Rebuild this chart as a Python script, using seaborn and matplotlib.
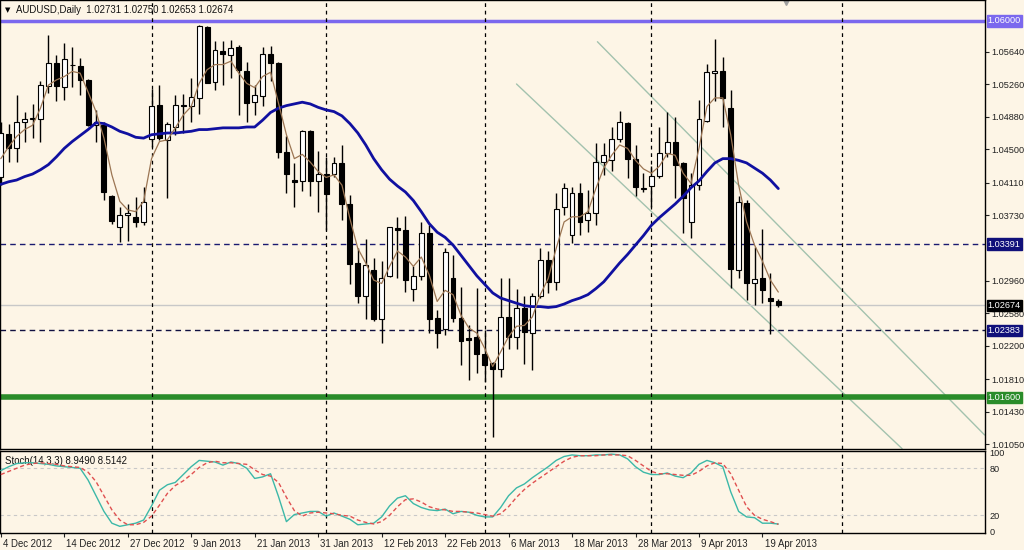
import numpy as np
import pandas as pd
import matplotlib
matplotlib.use('Agg')
import matplotlib.pyplot as plt
import matplotlib.transforms as mtransforms
from matplotlib.patches import Rectangle
import seaborn as sns

# ---- daily AUDUSD candles, 4 Dec 2012 .. 22 Apr 2013 ----
opens = [
    1.0418, 1.0468, 1.0452, 1.0482, 1.0485, 1.0485, 1.0524, 1.0551, 1.0523, 1.0549,
    1.0547, 1.0531, 1.0478, 1.0478, 1.0395, 1.0359, 1.0373, 1.0371, 1.0365, 1.0462,
    1.0502, 1.0461, 1.0476, 1.0502, 1.0500, 1.0510, 1.0593, 1.0529, 1.0565, 1.0560,
    1.0569, 1.0542, 1.0505, 1.0512, 1.0561, 1.0551, 1.0447, 1.0414, 1.0413, 1.0471,
    1.0413, 1.0421, 1.0421, 1.0434, 1.0386, 1.0317, 1.0278, 1.0309, 1.0252, 1.0302,
    1.0358, 1.0356, 1.0287, 1.0302, 1.0352, 1.0253, 1.0240, 1.0300, 1.0253, 1.0229,
    1.0230, 1.0210, 1.0200, 1.0193, 1.0254, 1.0230, 1.0264, 1.0235, 1.0278, 1.0321,
    1.0295, 1.0382, 1.0350, 1.0399, 1.0367, 1.0376, 1.0435, 1.0437, 1.0462, 1.0481,
    1.0439, 1.0404, 1.0407, 1.0419, 1.0446, 1.0458, 1.0434, 1.0365, 1.0408, 1.0483,
    1.0539, 1.0541, 1.0498, 1.0309, 1.0387, 1.0294, 1.0299, 1.0276, 1.02731]
highs = [
    1.0482, 1.0480, 1.0513, 1.0494, 1.0503, 1.0530, 1.0583, 1.0560, 1.0574, 1.0569,
    1.0557, 1.0532, 1.0496, 1.0482, 1.0396, 1.0383, 1.0386, 1.0394, 1.0406, 1.0520,
    1.0525, 1.0482, 1.0513, 1.0515, 1.0533, 1.0595, 1.0594, 1.0576, 1.0576, 1.0578,
    1.0572, 1.0552, 1.0525, 1.0570, 1.0571, 1.0552, 1.0465, 1.0434, 1.0473, 1.0473,
    1.0448, 1.0441, 1.0441, 1.0455, 1.0397, 1.0334, 1.0345, 1.0323, 1.0319, 1.0359,
    1.0371, 1.0372, 1.0313, 1.0365, 1.0361, 1.0262, 1.0334, 1.0326, 1.0289, 1.0244,
    1.0288, 1.0239, 1.0201, 1.0299, 1.0299, 1.0287, 1.0278, 1.0282, 1.0334, 1.0331,
    1.0399, 1.0410, 1.0406, 1.0410, 1.0402, 1.0457, 1.0457, 1.0476, 1.0495, 1.0482,
    1.0455, 1.0422, 1.0430, 1.0476, 1.0494, 1.0488, 1.0435, 1.0422, 1.0508, 1.0550,
    1.0579, 1.0558, 1.0519, 1.0395, 1.0391, 1.0336, 1.0357, 1.0305, 1.02750]
lows = [
    1.0408, 1.0435, 1.0435, 1.0459, 1.0463, 1.0458, 1.0516, 1.0506, 1.0508, 1.0523,
    1.0513, 1.0477, 1.0459, 1.0391, 1.0363, 1.0341, 1.0343, 1.0359, 1.0361, 1.0453,
    1.0461, 1.0393, 1.0467, 1.0469, 1.0482, 1.0491, 1.0527, 1.0519, 1.0525, 1.0533,
    1.0490, 1.0482, 1.0490, 1.0501, 1.0530, 1.0440, 1.0399, 1.0382, 1.0401, 1.0395,
    1.0377, 1.0356, 1.0417, 1.0367, 1.0293, 1.0270, 1.0252, 1.0249, 1.0223, 1.0301,
    1.0299, 1.0283, 1.0273, 1.0297, 1.0235, 1.0218, 1.0233, 1.0248, 1.0198, 1.0180,
    1.0188, 1.0178, 1.0113, 1.0184, 1.0217, 1.0216, 1.0199, 1.0192, 1.0276, 1.0282,
    1.0285, 1.0373, 1.0340, 1.0350, 1.0353, 1.0361, 1.0420, 1.0424, 1.0459, 1.0416,
    1.0395, 1.0400, 1.0383, 1.0416, 1.0441, 1.0393, 1.0352, 1.0346, 1.0402, 1.0482,
    1.0506, 1.0476, 1.0288, 1.0299, 1.0274, 1.0268, 1.0270, 1.0234, 1.02653]
closes = [
    1.0469, 1.0452, 1.0482, 1.0485, 1.0486, 1.0525, 1.0551, 1.0524, 1.0555, 1.0548,
    1.0531, 1.0478, 1.0482, 1.0400, 1.0366, 1.0373, 1.0375, 1.0365, 1.0388, 1.0501,
    1.0463, 1.0479, 1.0502, 1.0500, 1.0511, 1.0594, 1.0528, 1.0566, 1.0561, 1.0568,
    1.0543, 1.0504, 1.0513, 1.0561, 1.0551, 1.0447, 1.0421, 1.0412, 1.0471, 1.0413,
    1.0421, 1.0398, 1.0434, 1.0386, 1.0316, 1.0278, 1.0315, 1.0252, 1.0300, 1.0359,
    1.0355, 1.0297, 1.0302, 1.0352, 1.0252, 1.0235, 1.0330, 1.0253, 1.0226, 1.0227,
    1.0210, 1.0198, 1.0193, 1.0254, 1.0230, 1.0264, 1.0236, 1.0278, 1.0321, 1.0295,
    1.0380, 1.0405, 1.0399, 1.0365, 1.0376, 1.0435, 1.0443, 1.0462, 1.0482, 1.0439,
    1.0406, 1.0405, 1.0419, 1.0446, 1.0458, 1.0432, 1.0393, 1.0408, 1.0485, 1.0540,
    1.0541, 1.0510, 1.0310, 1.0388, 1.0294, 1.0298, 1.0285, 1.0273, 1.02674]

# slow moving average (thick blue)
ma_slow = [
    1.0409, 1.0412, 1.0414, 1.0418, 1.0421, 1.0426, 1.0432, 1.0441, 1.0451, 1.0459,
    1.0466, 1.0473, 1.0481, 1.0480, 1.0476, 1.0471, 1.0468, 1.0464, 1.0463, 1.0467,
    1.0468, 1.0469, 1.0469, 1.0470, 1.0471, 1.0473, 1.0473, 1.0474, 1.0475, 1.0475,
    1.0475, 1.0476, 1.0476, 1.0484, 1.0493, 1.0498, 1.0501, 1.0503, 1.0505, 1.0503,
    1.0499, 1.0496, 1.0494, 1.0489, 1.0480, 1.0469, 1.0455, 1.0439, 1.0426, 1.0415,
    1.0407, 1.0400, 1.0390, 1.0377, 1.0363, 1.0353, 1.0347, 1.0338, 1.0326, 1.0314,
    1.0302, 1.0292, 1.0282, 1.0276, 1.0273, 1.0270, 1.0267, 1.0266, 1.0266, 1.0265,
    1.0266, 1.0269, 1.0273, 1.0276, 1.0280, 1.0287, 1.0295, 1.0306, 1.0317, 1.0327,
    1.0338, 1.0349, 1.0361, 1.0370, 1.0378, 1.0386, 1.0395, 1.0405, 1.0413, 1.0424,
    1.0434, 1.0439, 1.0439, 1.0437, 1.0434, 1.0428, 1.0422, 1.0414, 1.0404]
# fast moving average (thin brown)
ma_fast = [
    1.0439, 1.0453, 1.0465, 1.0473, 1.0478, 1.0498, 1.0525, 1.0531, 1.0535, 1.0541,
    1.0539, 1.0517, 1.0494, 1.0463, 1.0420, 1.0389, 1.0379, 1.0377, 1.0389, 1.0439,
    1.0459, 1.0461, 1.0475, 1.0490, 1.0500, 1.0527, 1.0543, 1.0549, 1.0549, 1.0553,
    1.0539, 1.0527, 1.0522, 1.0535, 1.0540, 1.0504, 1.0467, 1.0439, 1.0444, 1.0435,
    1.0424, 1.0417, 1.0420, 1.0408, 1.0369, 1.0334, 1.0317, 1.0297, 1.0293, 1.0313,
    1.0331, 1.0324, 1.0313, 1.0324, 1.0303, 1.0272, 1.0285, 1.0280, 1.0256, 1.0241,
    1.0235, 1.0217, 1.0196, 1.0213, 1.0231, 1.0243, 1.0244, 1.0254, 1.0280, 1.0299,
    1.0334, 1.0365, 1.0371, 1.0371, 1.0377, 1.0404, 1.0428, 1.0443, 1.0455, 1.0451,
    1.0437, 1.0427, 1.0422, 1.0430, 1.0445, 1.0443, 1.0422, 1.0410, 1.0451, 1.0500,
    1.0510, 1.0510, 1.0467, 1.0408, 1.0365, 1.0338, 1.0319, 1.0297, 1.0283]

# Stochastic(14,3,3)
stoch_k = [
    77, 82, 86, 87, 87, 86, 85, 83, 82, 81,
    80, 65, 45, 25, 10, 6, 8, 10, 14, 32,
    52, 59, 62, 72, 82, 90, 89, 88, 84, 88,
    86, 80, 67, 69, 73, 44, 12, 21, 23, 25,
    25, 19, 23, 19, 15, 8, 9, 10, 18, 32,
    42, 45, 35, 30, 27, 26, 28, 22, 25, 24,
    20, 18, 18, 30, 45, 55, 60, 68, 75, 82,
    90, 95, 97, 96, 96, 97, 97, 98, 97, 92,
    82, 75, 72, 72, 74, 70, 68, 74, 85, 90,
    87, 82, 50, 25, 18, 17, 10, 10, 8.949]
stoch_d = [
    72, 76, 80, 84, 86, 87, 86, 85, 83, 82,
    81, 75, 63, 45, 27, 14, 8, 8, 11, 19,
    33, 48, 58, 64, 72, 81, 87, 89, 87, 87,
    86, 85, 78, 72, 70, 62, 43, 26, 19, 23,
    24, 23, 22, 20, 19, 14, 11, 9, 12, 20,
    31, 40, 41, 37, 31, 28, 27, 25, 25, 24,
    23, 21, 19, 22, 31, 43, 53, 61, 68, 75,
    82, 89, 94, 96, 96, 96, 97, 97, 97, 96,
    90, 83, 76, 73, 73, 72, 71, 71, 76, 83,
    87, 86, 73, 52, 31, 20, 15, 12, 8.5142]

# trend channel anchors (bar index, price)
upper_bars = [75.2, 124.0]
upper_prices = [1.05757, 1.01159]
lower_bars = [65.0, 113.6]
lower_prices = [1.05263, 1.00999]

# horizontal levels
level_top = 1.06000
level_bottom = 1.01600
level_dash_hi = 1.03391
level_dash_lo = 1.02383
last_price = 1.02674

price_ticks = [1.05640, 1.05260, 1.04880, 1.04500, 1.04110, 1.03730,
               1.02960, 1.02580, 1.02200, 1.01810, 1.01430, 1.01050]
date_ticks = [0, 8, 16, 24, 32, 40, 48, 56, 64, 72, 80, 88, 96]
date_labels = ['4 Dec 2012', '14 Dec 2012', '27 Dec 2012', '9 Jan 2013', '21 Jan 2013',
               '31 Jan 2013', '12 Feb 2013', '22 Feb 2013', '6 Mar 2013', '18 Mar 2013',
               '28 Mar 2013', '9 Apr 2013', '19 Apr 2013']
month_starts = [19, 41, 61, 82, 106]

df = pd.DataFrame({'open': opens, 'high': highs, 'low': lows, 'close': closes,
                   'ma_slow': ma_slow, 'ma_fast': ma_fast,
                   'k': stoch_k, 'd': stoch_d})
df['bar'] = np.arange(len(df))

sns.set_theme(style='white')
plt.rcParams['font.family'] = ['Liberation Sans', 'DejaVu Sans']
BG = '#FDF5E6'
FS = 6.6

fig = plt.figure(figsize=(10.24, 5.5), dpi=100, facecolor=BG)
W, H = 1024.0, 550.0
ax = fig.add_axes([0, 1 - 449 / H, 985 / W, 449 / H], facecolor=BG)
axs = fig.add_axes([0, 1 - 533 / H, 985 / W, 82 / H], facecolor=BG, sharex=ax)

# candles
body_w = 0.62
ax.vlines(df['bar'], df['low'], df['high'], color='black', lw=1, zorder=2)
for r in df.itertuples():
    lo, hi = min(r.open, r.close), max(r.open, r.close)
    ax.add_patch(Rectangle((r.bar - body_w / 2, lo), body_w, max(hi - lo, 0.00006),
                           facecolor='white' if r.close >= r.open else 'black',
                           edgecolor='black', lw=0.8, zorder=3))

sns.lineplot(data=df, x='bar', y='ma_slow', ax=ax, color='#1010A0', lw=2, zorder=5)
sns.lineplot(data=df, x='bar', y='ma_fast', ax=ax, color='#9C7654', lw=0.9, zorder=6)

# channel
ax.plot(upper_bars, upper_prices, color='#A3C2AE', lw=1, zorder=1)
ax.plot(lower_bars, lower_prices, color='#A3C2AE', lw=1, zorder=1)

# levels
ax.axhline(level_top, color='#7B68EE', lw=2.5, zorder=1)
ax.axhline(level_bottom, color='#2A8C2A', lw=4, zorder=1)
ax.axhline(level_dash_hi, color='#1A1A70', lw=1, ls=(0, (4, 3)), zorder=1)
ax.axhline(level_dash_lo, color='#101040', lw=1, ls=(0, (4, 3)), zorder=1)
ax.axhline(last_price, color='#C8C8C8', lw=1, zorder=1)

for a in (ax, axs):
    for b in month_starts:
        a.axvline(b, color='black', lw=0.9, ls=(0, (3, 3)), zorder=1)

ax.set_xlim(-0.1, 124.05)
ax.set_ylim(1.00995, 1.06245)
ax.yaxis.tick_right()
ax.set_yticks(price_ticks)
ax.set_yticklabels([f'{p:.5f}' for p in price_ticks])
ax.tick_params(axis='y', labelsize=FS, length=3, width=0.8, pad=1.5, colors='#222222', direction='out')
ax.tick_params(axis='x', bottom=False, labelbottom=False)
ax.set_xlabel('')
ax.set_ylabel('')

# price boxes on the right axis
boxes = [(level_top, '#7B68EE', 'white'), (level_dash_hi, '#10107A', 'white'),
         (last_price, 'black', 'white'), (level_dash_lo, '#10107A', 'white'),
         (level_bottom, '#2A8C2A', 'white')]
for p, fc, tc in boxes:
    ax.annotate(f'{p:.5f}', xy=(1, p), xycoords=('axes fraction', 'data'),
                xytext=(2.0, 0), textcoords='offset points', va='center', ha='left',
                fontsize=FS, color=tc, annotation_clip=False, zorder=10,
                bbox=dict(boxstyle='square,pad=0.12', fc=fc, ec=fc))

ax.text(0.005, 0.978, '\u25BC', transform=ax.transAxes, fontsize=5, va='center',
        color='black', family='DejaVu Sans')
ax.text(0.016, 0.978, 'AUDUSD,Daily  1.02731 1.02750 1.02653 1.02674',
        transform=ax.transAxes, fontsize=6.9, va='center', color='#111111')
ax.plot([99], [1.0622], marker='v', color='#A0A0A0', ms=5, clip_on=False)

# stochastic panel
axs.axhline(80, color='#C8C8C8', lw=0.8, ls=(0, (3, 3)))
axs.axhline(20, color='#C8C8C8', lw=0.8, ls=(0, (3, 3)))
sns.lineplot(data=df, x='bar', y='k', ax=axs, color='#3CB8A8', lw=1, zorder=4)
sns.lineplot(data=df, x='bar', y='d', ax=axs, color='#E05050', lw=1, ls=(0, (3, 2)), zorder=5)
axs.set_ylim(-2.5, 102)
axs.yaxis.tick_right()
axs.set_yticks([100, 80, 20, 0])
axs.set_yticklabels(['100', '80', '20', '0'])
axs.tick_params(axis='y', labelsize=FS, length=0, pad=3, colors='#222222')
axs.set_xticks(date_ticks)
axs.set_xticklabels(date_labels)
axs.tick_params(axis='x', labelsize=FS + 0.3, length=3, width=0.8, pad=1.5,
                colors='#222222', direction='out', bottom=True)
offset = mtransforms.ScaledTranslation(1.5 / 72, 0, fig.dpi_scale_trans)
for lab in axs.get_xticklabels():
    lab.set_ha('left')
    lab.set_transform(lab.get_transform() + offset)
axs.set_xlabel('')
axs.set_ylabel('')
axs.text(0.005, 0.88, 'Stoch(14,3,3) 8.9490 8.5142', transform=axs.transAxes,
         fontsize=FS + 0.3, va='center', color='#111111')

for a in (ax, axs):
    for s in a.spines.values():
        s.set_color('black')
        s.set_linewidth(1)
        s.set_visible(True)

fig.savefig('out.png', dpi=100, facecolor=BG)
